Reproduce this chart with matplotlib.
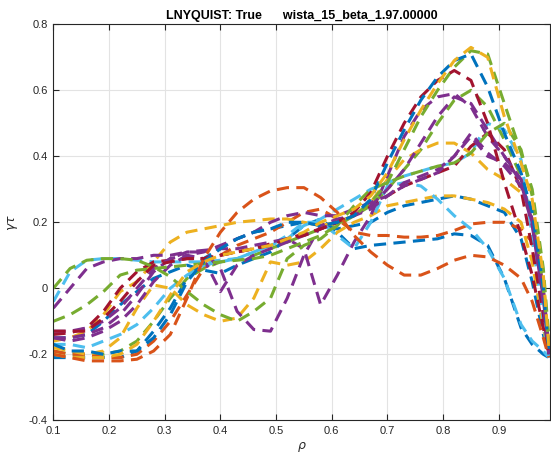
import matplotlib
matplotlib.use("Agg")
import matplotlib.pyplot as plt

plt.rcParams['font.family'] = ['Liberation Sans', 'DejaVu Sans']
plt.rcParams['axes.unicode_minus'] = False
plt.rcParams['mathtext.fontset'] = 'dejavusans'

rho = [0.10, 0.13, 0.16, 0.19, 0.22, 0.25, 0.28, 0.31, 0.34, 0.37, 0.40, 0.43, 0.46,
       0.49, 0.52, 0.55, 0.58, 0.61, 0.64, 0.67, 0.70, 0.73, 0.76, 0.79, 0.82, 0.85,
       0.88, 0.91, 0.94, 0.96, 0.98, 0.99]

green_mid = [-0.19,-0.20,-0.20,-0.20,-0.19,-0.16,-0.10,-0.03,0.03,0.06,0.08,0.09,0.10,0.12,0.14,0.16,0.18,0.20,0.22,0.25,0.30,0.36,0.42,0.50,0.57,0.60,0.55,0.45,0.34,0.22,0.02,-0.18]
blue_plateau = [-0.21,-0.21,-0.21,-0.21,-0.21,-0.19,-0.13,-0.06,0.03,0.09,0.12,0.15,0.17,0.18,0.19,0.20,0.19,0.18,0.19,0.20,0.23,0.25,0.26,0.27,0.28,0.27,0.25,0.23,0.15,0.02,-0.14,-0.21]
blue_low = [-0.15,-0.15,-0.14,-0.10,-0.05,-0.01,0.03,0.05,0.07,0.055,0.045,0.07,0.09,0.11,0.15,0.19,0.21,0.17,0.12,0.13,0.135,0.14,0.145,0.15,0.165,0.16,0.13,0.03,-0.12,-0.17,-0.20,-0.21]
orange_plateau = [-0.19,-0.20,-0.20,-0.21,-0.21,-0.20,-0.16,-0.10,-0.02,0.06,0.10,0.13,0.15,0.17,0.20,0.23,0.24,0.21,0.17,0.16,0.16,0.155,0.155,0.16,0.175,0.195,0.20,0.20,0.18,0.14,-0.02,-0.20]
yellow_low = [-0.18,-0.19,-0.20,-0.19,-0.15,-0.06,0.01,0.00,-0.05,-0.08,-0.10,-0.09,-0.03,0.08,0.07,0.08,0.12,0.17,0.20,0.22,0.25,0.26,0.27,0.28,0.28,0.27,0.26,0.24,0.20,0.08,-0.12,-0.20]
yellow_mid = [-0.16,-0.15,-0.13,-0.08,-0.01,0.02,0.08,0.14,0.17,0.18,0.19,0.20,0.205,0.21,0.21,0.20,0.19,0.20,0.22,0.26,0.33,0.39,0.42,0.44,0.44,0.41,0.36,0.33,0.29,0.21,0.00,-0.18]
ltblue_low = [-0.17,-0.17,-0.18,-0.16,-0.14,-0.11,-0.06,0.00,0.04,0.07,0.08,0.09,0.11,0.13,0.16,0.20,0.20,0.16,0.12,0.20,0.31,0.32,0.31,0.27,0.22,0.18,0.12,0.03,-0.11,-0.16,-0.19,-0.21]
ltblue_b = [-0.04,0.05,0.085,0.09,0.09,0.085,0.08,0.08,0.08,0.08,0.085,0.09,0.11,0.13,0.15,0.19,0.21,0.24,0.27,0.30,0.32,0.34,0.355,0.37,0.38,0.41,0.50,0.48,0.39,0.16,-0.10,-0.21]
dkred_b = [-0.14,-0.135,-0.12,-0.07,0.00,0.05,0.08,0.085,0.09,0.09,0.10,0.11,0.12,0.135,0.15,0.165,0.18,0.20,0.22,0.25,0.28,0.31,0.33,0.35,0.37,0.43,0.47,0.42,0.30,0.12,-0.08,-0.20]
purple_b = [-0.15,-0.16,-0.15,-0.13,-0.10,-0.05,0.02,0.07,0.10,0.11,0.13,0.15,0.17,0.20,0.22,0.23,0.22,0.22,0.24,0.26,0.28,0.31,0.33,0.35,0.40,0.46,0.40,0.38,0.33,0.20,-0.05,-0.20]
purple_smallv = [-0.13,-0.13,-0.12,-0.10,-0.06,0.00,0.06,0.09,0.10,0.09,-0.01,0.07,0.10,0.12,0.14,0.16,0.18,0.20,0.22,0.25,0.30,0.36,0.44,0.52,0.58,0.56,0.48,0.40,0.32,0.19,-0.03,-0.20]
purple_dip = [-0.06,0.00,0.06,0.08,0.09,0.09,0.10,0.10,0.11,0.11,0.06,-0.07,-0.125,-0.13,-0.03,0.10,0.19,0.21,0.22,0.24,0.28,0.32,0.34,0.36,0.40,0.47,0.41,0.37,0.31,0.21,0.00,-0.18]
purple_v = [-0.15,-0.15,-0.14,-0.12,-0.08,-0.02,0.05,0.09,0.11,0.115,0.12,0.12,0.13,0.14,0.15,0.12,-0.05,0.04,0.14,0.22,0.34,0.46,0.54,0.58,0.59,0.55,0.46,0.40,0.33,0.20,-0.02,-0.19]
green_arch = [0.00,0.06,0.085,0.09,0.09,0.085,0.065,0.035,-0.01,-0.05,-0.08,-0.10,-0.07,-0.03,0.09,0.13,0.15,0.19,0.25,0.30,0.32,0.34,0.355,0.37,0.38,0.41,0.47,0.50,0.42,0.28,0.00,-0.17]
green_high = [-0.10,-0.08,-0.05,-0.01,0.04,0.055,0.06,0.065,0.07,0.075,0.08,0.085,0.09,0.10,0.12,0.14,0.16,0.19,0.22,0.26,0.32,0.42,0.52,0.60,0.67,0.72,0.71,0.56,0.41,0.30,0.06,-0.15]
dkred_high = [-0.13,-0.13,-0.13,-0.09,-0.04,0.02,0.07,0.08,0.09,0.09,0.10,0.11,0.12,0.13,0.15,0.16,0.18,0.20,0.23,0.29,0.40,0.50,0.58,0.63,0.66,0.63,0.50,0.32,0.16,0.04,-0.12,-0.20]
blue_high = [-0.17,-0.19,-0.19,-0.20,-0.19,-0.19,-0.15,-0.08,0.02,0.08,0.12,0.15,0.17,0.18,0.20,0.20,0.19,0.20,0.22,0.27,0.38,0.48,0.57,0.64,0.69,0.71,0.61,0.47,0.35,0.23,0.00,-0.20]
yellow_high = [-0.20,-0.21,-0.21,-0.21,-0.20,-0.17,-0.10,-0.02,0.05,0.08,0.10,0.11,0.12,0.13,0.15,0.17,0.20,0.22,0.24,0.28,0.35,0.45,0.54,0.62,0.69,0.73,0.70,0.52,0.38,0.27,0.04,-0.18]
orange_hump = [-0.20,-0.21,-0.22,-0.22,-0.22,-0.215,-0.19,-0.14,-0.03,0.09,0.17,0.23,0.27,0.295,0.305,0.305,0.275,0.23,0.16,0.11,0.07,0.04,0.04,0.06,0.085,0.10,0.095,0.07,0.03,-0.04,-0.15,-0.21]

BLUE, ORANGE, YELLOW, PURPLE = '#0072BD', '#D95319', '#EDB120', '#7E2F8E'
GREEN, LTBLUE, DKRED = '#77AC30', '#4DBEEE', '#A2142F'

series = [
    (green_mid, GREEN), (blue_plateau, BLUE), (blue_low, BLUE), (orange_plateau, ORANGE),
    (yellow_low, YELLOW), (yellow_mid, YELLOW), (ltblue_low, LTBLUE), (ltblue_b, LTBLUE),
    (dkred_b, DKRED), (purple_b, PURPLE), (purple_smallv, PURPLE), (purple_dip, PURPLE),
    (purple_v, PURPLE), (green_arch, GREEN), (green_high, GREEN), (dkred_high, DKRED),
    (blue_high, BLUE), (yellow_high, YELLOW), (orange_hump, ORANGE),
]

fig = plt.figure(figsize=(5.51, 4.55), dpi=100)
ax = fig.add_axes([0.0969, 0.0763, 0.9013, 0.8703])

for ys, col in series:
    ax.plot(rho, ys, color=col, lw=2.2, linestyle=(0, (4.0, 2.4)), dash_capstyle='butt')

ax.set_xlim(0.1, 0.992)
ax.set_ylim(-0.4, 0.8)
ax.set_xticks([0.1, 0.2, 0.3, 0.4, 0.5, 0.6, 0.7, 0.8, 0.9])
ax.set_xticklabels(['0.1', '0.2', '0.3', '0.4', '0.5', '0.6', '0.7', '0.8', '0.9'])
ax.set_yticks([-0.4, -0.2, 0, 0.2, 0.4, 0.6, 0.8])
ax.set_yticklabels(['-0.4', '-0.2', '0', '0.2', '0.4', '0.6', '0.8'])

ax.grid(True, color='#e3e3e3', lw=0.8)
ax.set_axisbelow(True)
ax.tick_params(direction='in', length=4, width=0.8, colors='#262626', labelsize=8,
               top=True, right=True, pad=4)
for sp in ax.spines.values():
    sp.set_color('#262626')
    sp.set_linewidth(0.8)

ax.set_title('LNYQUIST: True      wista_15_beta_1.97.00000', fontsize=9,
             fontweight='bold', pad=4)
ax.set_xlabel(r'$\rho$', fontsize=9, labelpad=3, color='#262626')
ax.set_ylabel(r'$\gamma\tau$', fontsize=9, labelpad=6, color='#262626')

fig.savefig('out.png', dpi=100)
